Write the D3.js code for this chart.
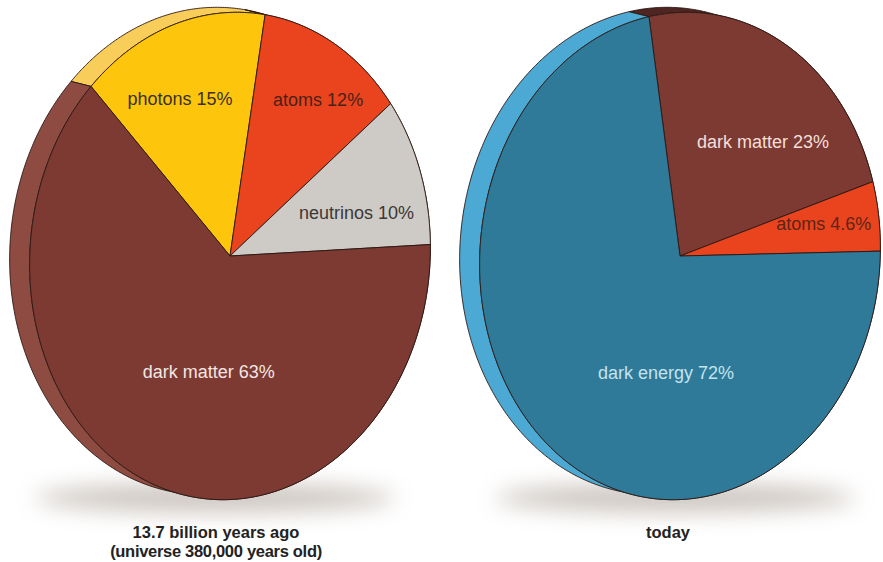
<!DOCTYPE html>
<html>
<head>
<meta charset="utf-8">
<script src="https://cdn.jsdelivr.net/npm/d3@7/dist/d3.min.js"></script>
<style>
  html, body { margin: 0; padding: 0; background: #ffffff; }
  svg { display: block; }
</style>
</head>
<body>
<svg id="chart" width="883" height="562"></svg>
<script>
// Composition of the universe, 380,000 years after the Big Bang
const earlyCategories = ["photons", "atoms", "neutrinos", "dark matter"];
const earlyValues = [15, 12, 10, 63];
const earlyLabels = ["photons 15%", "atoms 12%", "neutrinos 10%", "dark matter 63%"];

// Composition of the universe today
const todayCategories = ["dark matter", "atoms", "dark energy"];
const todayValues = [23, 4.6, 72];
const todayLabels = ["dark matter 23%", "atoms 4.6%", "dark energy 72%"];

const earlyCaption = ["13.7 billion years ago", "(universe 380,000 years old)"];
const todayCaption = ["today"];

// ---- styling -------------------------------------------------------------
const faceColor = {
  "photons": "#fdc60d",
  "atoms": "#ea441f",
  "neutrinos": "#cecac6",
  "dark matter": "#7c3a33",
  "dark energy": "#2e7a98"
};
const earlySide = ["#f8cd5a", "#c7391a", "#b3afab", "#8d4b42"];
const todaySide = ["#4f2521", "#b8341a", "#4ca9d3"];
const earlyText = ["#3a3029", "#4a2115", "#3b3835", "#f3e6e2"];
const todayText = ["#f4dfda", "#5c2516", "#c3e3ef"];
// label anchors in disc coordinates: [angle in degrees, fraction of radius]
const earlyAnchor = [[-27, 0.70], [29, 0.765], [70, 0.65], [186.5, 0.485]];
const todayAnchor = [[36.3, 0.615], [75.5, 0.725], [182.3, 0.48]];

const svg = d3.select("#chart");
const rad = Math.PI / 180;

const defs = svg.append("defs");
defs.append("filter").attr("id", "soft").attr("x", "-30%").attr("y", "-200%")
  .attr("width", "160%").attr("height", "500%")
  .append("feGaussianBlur").attr("stdDeviation", 11);

// A tilted disc: circle of unit radius mapped to an ellipse rotated by `tilt`,
// extruded by `depth` (screen offset of the back face).
function drawDisc(cfg) {
  const g = svg.append("g");
  const cosT = Math.cos(cfg.tilt * rad), sinT = Math.sin(cfg.tilt * rad);

  const project = (theta, r, back) => {
    const lx = cfg.rx * r * Math.sin(theta);
    const ly = -cfg.ry * r * Math.cos(theta);
    let x = cfg.cx + lx * cosT - ly * sinT;
    let y = cfg.cy + lx * sinT + ly * cosT;
    if (back) { x += cfg.depth[0]; y += cfg.depth[1]; }
    return [x, y];
  };
  const arcPoints = (a0, a1, back) => {
    const n = Math.max(2, Math.ceil(Math.abs(a1 - a0) / (0.5 * rad)));
    return d3.range(n + 1).map(i => project(a0 + (a1 - a0) * i / n, 1, back));
  };

  const slices = d3.pie()
    .sort(null)
    .value(d => d.value)
    .startAngle(cfg.start * rad)
    .endAngle(cfg.start * rad + 2 * Math.PI)(cfg.data);

  const line = d3.line().curve(d3.curveLinear);

  // ground shadow
  g.append("ellipse")
    .attr("cx", cfg.shadow[0]).attr("cy", cfg.shadow[1])
    .attr("rx", cfg.shadow[2]).attr("ry", cfg.shadow[3])
    .attr("fill", "#b9b0a8").attr("opacity", 0.75)
    .attr("filter", "url(#soft)");

  // rim of the disc
  g.selectAll("path.rim").data(slices).join("path")
    .attr("class", "rim")
    .attr("d", s => line(arcPoints(s.startAngle, s.endAngle, false)
      .concat(arcPoints(s.endAngle, s.startAngle, true))) + "Z")
    .attr("fill", (s, i) => cfg.side[i])
    .attr("stroke", "#2a1612").attr("stroke-width", 0.9)
    .attr("stroke-linejoin", "round");

  // front face wedges
  g.selectAll("path.face").data(slices).join("path")
    .attr("class", "face")
    .attr("d", s => line([project(0, 0, false)]
      .concat(arcPoints(s.startAngle, s.endAngle, false))) + "Z")
    .attr("fill", s => faceColor[s.data.category])
    .attr("stroke", "#2a1612").attr("stroke-width", 0.9)
    .attr("stroke-linejoin", "round");

  // slice labels
  g.selectAll("text.label").data(slices).join("text")
    .attr("class", "label")
    .attr("x", (s, i) => project(cfg.anchor[i][0] * rad, cfg.anchor[i][1], false)[0])
    .attr("y", (s, i) => project(cfg.anchor[i][0] * rad, cfg.anchor[i][1], false)[1])
    .attr("dy", "0.35em")
    .attr("text-anchor", "middle")
    .attr("font-family", "'Liberation Sans', Arial, Helvetica, sans-serif")
    .attr("font-size", 18)
    .attr("fill", (s, i) => cfg.textColor[i])
    .text(s => s.data.label);

  // caption under the disc
  const cap = g.append("text")
    .attr("x", cfg.captionX).attr("y", 538)
    .attr("text-anchor", "middle")
    .attr("font-family", "'Liberation Sans', Arial, Helvetica, sans-serif")
    .attr("font-weight", "bold")
    .attr("font-size", 16.5)
    .attr("fill", "#222222");
  cfg.caption.forEach((t, i) => {
    cap.append("tspan").attr("x", cfg.captionX).attr("dy", i === 0 ? 0 : 18.5)
      .attr("letter-spacing", i === 0 ? 0 : -0.3)
      .text(t);
  });
}

const early = earlyCategories.map((c, i) => ({ category: c, value: earlyValues[i], label: earlyLabels[i] }));
const today = todayCategories.map((c, i) => ({ category: c, value: todayValues[i], label: todayLabels[i] }));

drawDisc({
  data: early, cx: 230, cy: 256, rx: 200, ry: 244, tilt: 5, depth: [-20, -5], start: -50,
  side: earlySide, textColor: earlyText, anchor: earlyAnchor,
  shadow: [215, 498, 180, 14], caption: earlyCaption, captionX: 216
});
drawDisc({
  data: today, cx: 680, cy: 256, rx: 200, ry: 244, tilt: 5, depth: [-20, -5], start: -15,
  side: todaySide, textColor: todayText, anchor: todayAnchor,
  shadow: [675, 498, 180, 14], caption: todayCaption, captionX: 668
});
</script>
</body>
</html>
